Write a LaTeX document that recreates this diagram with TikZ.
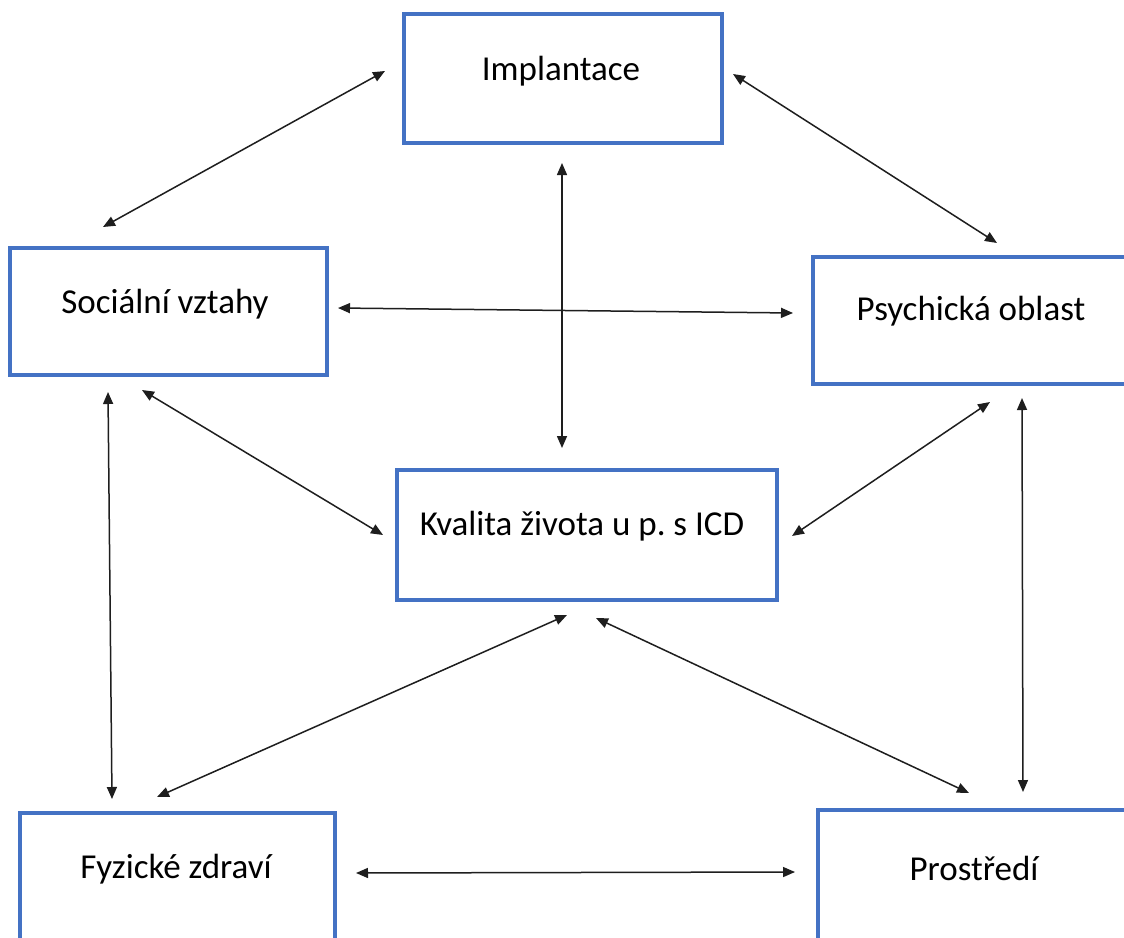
\documentclass[tikz,border=0pt]{standalone}
\usepackage{fontspec}
\setmainfont{Carlito}
\usetikzlibrary{arrows.meta}
\definecolor{boxblue}{HTML}{4472C4}
\definecolor{linegray}{HTML}{1E1E1E}
\tikzset{
  box/.style={draw=boxblue, line width=3.6pt, fill=white, inner sep=0pt, outer sep=0pt, rectangle},
  txt/.style={font=\fontsize{35}{42}\selectfont\frenchspacing, text=black, inner sep=0pt, anchor=base},
  conn/.style={draw=linegray, line width=1.5pt, {Triangle[length=12pt,width=10pt]}-{Triangle[length=12pt,width=10pt]}}
}
\begin{document}
\begin{tikzpicture}[x=1pt,y=-1pt]
\useasboundingbox (0,0) rectangle (1124,937);
\clip (0,0) rectangle (1124,937);
\fill[white] (0,0) rectangle (1124,937);
% boxes
\node[box, minimum width=318pt, minimum height=129pt] (impl) at (563,78.5) {};
\node[box, minimum width=317pt, minimum height=127pt] (soc) at (168.5,311.5) {};
\node[box, minimum width=316pt, minimum height=127pt] (psy) at (971,320.5) {};
\node[box, minimum width=380pt, minimum height=130pt] (kval) at (587,535) {};
\node[box, minimum width=315pt, minimum height=127pt] (fyz) at (177.5,876.5) {};
\node[box, minimum width=312pt, minimum height=136pt] (pros) at (974,878) {};
% texts
\node[txt] (implT) at ([shift={(-2,1.5)}]impl.center) {Implantace};
\node[txt] (socT) at ([shift={(-3.5,1.5)}]soc.center) {Sociální vztahy};
\node[txt] (psyT) at ([shift={(0,0)}]psy.center) {Psychická oblast};
\node[txt] (kvalT) at ([shift={(-5,0)}]kval.center) {Kvalita života u p. s ICD};
\node[txt] (fyzT) at ([shift={(-1.5,1.5)}]fyz.center) {Fyzické zdraví};
\node[txt] (prosT) at ([shift={(0,2)}]pros.center) {Prostředí};
% connectors
\draw[conn] ([shift={(-19,-7.5)}]impl.west) -- ([shift={(-65.5,-21)}]soc.north);
\draw[conn] ([shift={(11,-4.5)}]impl.east) -- ([shift={(26,-14)}]psy.north);
\draw[conn] ([shift={(-1,20)}]impl.south) -- ([shift={(-25,-22)}]kval.north);
\draw[conn] ([shift={(11,-3.5)}]soc.east) -- ([shift={(-20,-7.5)}]psy.west);
\draw[conn] ([shift={(-26.5,15)}]soc.south) -- ([shift={(-14,0)}]kval.west);
\draw[conn] ([shift={(19,18)}]psy.south) -- ([shift={(15,1)}]kval.east);
\draw[conn] ([shift={(-60.5,17)}]soc.south) -- ([shift={(-65.5,-14)}]fyz.north);
\draw[conn] ([shift={(51,14)}]psy.south) -- ([shift={(49,-18)}]pros.north);
\draw[conn] ([shift={(-20,15)}]kval.south) -- ([shift={(-20.5,-16)}]fyz.north);
\draw[conn] ([shift={(9,18)}]kval.south) -- ([shift={(-5,-17)}]pros.north);
\draw[conn] ([shift={(21,-3.5)}]fyz.east) -- ([shift={(-23,-6)}]pros.west);
\end{tikzpicture}
\end{document}
